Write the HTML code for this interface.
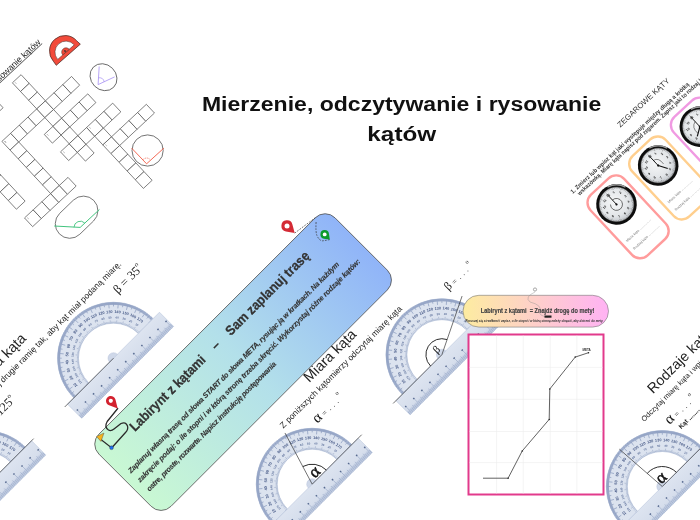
<!DOCTYPE html><html><head><meta charset="utf-8"><style>html,body{margin:0;padding:0;background:#fff}#root{position:relative;width:700px;height:520px;overflow:hidden;background:#fff}svg{position:absolute;left:0;top:0;will-change:transform}</style></head><body><div id="root"><svg width="700" height="520" viewBox="0 0 700 520"><defs><linearGradient id="rulg" x1="0" y1="0" x2="0" y2="1"><stop offset="0" stop-color="#dde4f0"/><stop offset="0.7" stop-color="#d6deec"/><stop offset="1" stop-color="#c3cee2"/></linearGradient><g id="prot"><path d="M-56,0 A56,56 0 0 1 56,0 L35,0 A35,35 0 0 0 -35,0 Z" fill="#dce3ef" stroke="#b3c0d8" stroke-width="0.6"/><path d="M-56,0 A56,56 0 0 1 56,0 L53.5,0 A53.5,53.5 0 0 0 -53.5,0 Z" fill="#bfcae0"/><path d="M-56.00,-0.00L-50.00,-0.00M-55.99,-0.98L-53.39,-0.93M-55.97,-1.95L-53.37,-1.86M-55.92,-2.93L-53.33,-2.79M-55.86,-3.91L-53.27,-3.72M-55.79,-4.88L-51.60,-4.51M-55.69,-5.85L-53.11,-5.58M-55.58,-6.82L-53.00,-6.51M-55.46,-7.79L-52.88,-7.43M-55.31,-8.76L-52.74,-8.35M-55.15,-9.72L-49.24,-8.68M-54.97,-10.69L-52.42,-10.19M-54.78,-11.64L-52.23,-11.10M-54.56,-12.60L-52.03,-12.01M-54.34,-13.55L-51.81,-12.92M-54.09,-14.49L-50.03,-13.41M-53.83,-15.44L-51.33,-14.72M-53.55,-16.37L-51.07,-15.61M-53.26,-17.30L-50.79,-16.50M-52.95,-18.23L-50.49,-17.39M-52.62,-19.15L-46.98,-17.10M-52.28,-20.07L-49.85,-19.14M-51.92,-20.98L-49.51,-20.00M-51.55,-21.88L-49.15,-20.87M-51.16,-22.78L-48.78,-21.72M-50.75,-23.67L-46.95,-21.89M-50.33,-24.55L-48.00,-23.41M-49.90,-25.42L-47.58,-24.24M-49.45,-26.29L-47.15,-25.07M-48.98,-27.15L-46.70,-25.89M-48.50,-28.00L-43.30,-25.00M-48.00,-28.84L-45.77,-27.50M-47.49,-29.68L-45.29,-28.30M-46.97,-30.50L-44.79,-29.08M-46.43,-31.31L-44.27,-29.86M-45.87,-32.12L-42.43,-29.71M-45.30,-32.92L-43.20,-31.39M-44.72,-33.70L-42.65,-32.14M-44.13,-34.48L-42.08,-32.88M-43.52,-35.24L-41.50,-33.61M-42.90,-36.00L-38.30,-32.14M-42.26,-36.74L-40.30,-35.03M-41.62,-37.47L-39.68,-35.73M-40.96,-38.19L-39.05,-36.42M-40.28,-38.90L-38.41,-37.09M-39.60,-39.60L-36.63,-36.63M-38.90,-40.28L-37.09,-38.41M-38.19,-40.96L-36.42,-39.05M-37.47,-41.62L-35.73,-39.68M-36.74,-42.26L-35.03,-40.30M-36.00,-42.90L-32.14,-38.30M-35.24,-43.52L-33.61,-41.50M-34.48,-44.13L-32.88,-42.08M-33.70,-44.72L-32.14,-42.65M-32.92,-45.30L-31.39,-43.20M-32.12,-45.87L-29.71,-42.43M-31.31,-46.43L-29.86,-44.27M-30.50,-46.97L-29.08,-44.79M-29.68,-47.49L-28.30,-45.29M-28.84,-48.00L-27.50,-45.77M-28.00,-48.50L-25.00,-43.30M-27.15,-48.98L-25.89,-46.70M-26.29,-49.45L-25.07,-47.15M-25.42,-49.90L-24.24,-47.58M-24.55,-50.33L-23.41,-48.00M-23.67,-50.75L-21.89,-46.95M-22.78,-51.16L-21.72,-48.78M-21.88,-51.55L-20.87,-49.15M-20.98,-51.92L-20.00,-49.51M-20.07,-52.28L-19.14,-49.85M-19.15,-52.62L-17.10,-46.98M-18.23,-52.95L-17.39,-50.49M-17.30,-53.26L-16.50,-50.79M-16.37,-53.55L-15.61,-51.07M-15.44,-53.83L-14.72,-51.33M-14.49,-54.09L-13.41,-50.03M-13.55,-54.34L-12.92,-51.81M-12.60,-54.56L-12.01,-52.03M-11.64,-54.78L-11.10,-52.23M-10.69,-54.97L-10.19,-52.42M-9.72,-55.15L-8.68,-49.24M-8.76,-55.31L-8.35,-52.74M-7.79,-55.46L-7.43,-52.88M-6.82,-55.58L-6.51,-53.00M-5.85,-55.69L-5.58,-53.11M-4.88,-55.79L-4.51,-51.60M-3.91,-55.86L-3.72,-53.27M-2.93,-55.92L-2.79,-53.33M-1.95,-55.97L-1.86,-53.37M-0.98,-55.99L-0.93,-53.39M0.00,-56.00L0.00,-50.00M0.98,-55.99L0.93,-53.39M1.95,-55.97L1.86,-53.37M2.93,-55.92L2.79,-53.33M3.91,-55.86L3.72,-53.27M4.88,-55.79L4.51,-51.60M5.85,-55.69L5.58,-53.11M6.82,-55.58L6.51,-53.00M7.79,-55.46L7.43,-52.88M8.76,-55.31L8.35,-52.74M9.72,-55.15L8.68,-49.24M10.69,-54.97L10.19,-52.42M11.64,-54.78L11.10,-52.23M12.60,-54.56L12.01,-52.03M13.55,-54.34L12.92,-51.81M14.49,-54.09L13.41,-50.03M15.44,-53.83L14.72,-51.33M16.37,-53.55L15.61,-51.07M17.30,-53.26L16.50,-50.79M18.23,-52.95L17.39,-50.49M19.15,-52.62L17.10,-46.98M20.07,-52.28L19.14,-49.85M20.98,-51.92L20.00,-49.51M21.88,-51.55L20.87,-49.15M22.78,-51.16L21.72,-48.78M23.67,-50.75L21.89,-46.95M24.55,-50.33L23.41,-48.00M25.42,-49.90L24.24,-47.58M26.29,-49.45L25.07,-47.15M27.15,-48.98L25.89,-46.70M28.00,-48.50L25.00,-43.30M28.84,-48.00L27.50,-45.77M29.68,-47.49L28.30,-45.29M30.50,-46.97L29.08,-44.79M31.31,-46.43L29.86,-44.27M32.12,-45.87L29.71,-42.43M32.92,-45.30L31.39,-43.20M33.70,-44.72L32.14,-42.65M34.48,-44.13L32.88,-42.08M35.24,-43.52L33.61,-41.50M36.00,-42.90L32.14,-38.30M36.74,-42.26L35.03,-40.30M37.47,-41.62L35.73,-39.68M38.19,-40.96L36.42,-39.05M38.90,-40.28L37.09,-38.41M39.60,-39.60L36.63,-36.63M40.28,-38.90L38.41,-37.09M40.96,-38.19L39.05,-36.42M41.62,-37.47L39.68,-35.73M42.26,-36.74L40.30,-35.03M42.90,-36.00L38.30,-32.14M43.52,-35.24L41.50,-33.61M44.13,-34.48L42.08,-32.88M44.72,-33.70L42.65,-32.14M45.30,-32.92L43.20,-31.39M45.87,-32.12L42.43,-29.71M46.43,-31.31L44.27,-29.86M46.97,-30.50L44.79,-29.08M47.49,-29.68L45.29,-28.30M48.00,-28.84L45.77,-27.50M48.50,-28.00L43.30,-25.00M48.98,-27.15L46.70,-25.89M49.45,-26.29L47.15,-25.07M49.90,-25.42L47.58,-24.24M50.33,-24.55L48.00,-23.41M50.75,-23.67L46.95,-21.89M51.16,-22.78L48.78,-21.72M51.55,-21.88L49.15,-20.87M51.92,-20.98L49.51,-20.00M52.28,-20.07L49.85,-19.14M52.62,-19.15L46.98,-17.10M52.95,-18.23L50.49,-17.39M53.26,-17.30L50.79,-16.50M53.55,-16.37L51.07,-15.61M53.83,-15.44L51.33,-14.72M54.09,-14.49L50.03,-13.41M54.34,-13.55L51.81,-12.92M54.56,-12.60L52.03,-12.01M54.78,-11.64L52.23,-11.10M54.97,-10.69L52.42,-10.19M55.15,-9.72L49.24,-8.68M55.31,-8.76L52.74,-8.35M55.46,-7.79L52.88,-7.43M55.58,-6.82L53.00,-6.51M55.69,-5.85L53.11,-5.58M55.79,-4.88L51.60,-4.51M55.86,-3.91L53.27,-3.72M55.92,-2.93L53.33,-2.79M55.97,-1.95L53.37,-1.86M55.99,-0.98L53.39,-0.93M56.00,-0.00L50.00,-0.00" stroke="#6a7fab" stroke-width="0.5"/><path d="M-35.00,-0.00L-38.00,-0.00M-34.98,-1.22L-36.58,-1.28M-34.91,-2.44L-36.51,-2.55M-34.81,-3.66L-36.40,-3.83M-34.66,-4.87L-36.24,-5.09M-34.47,-6.08L-37.42,-6.60M-34.24,-7.28L-35.80,-7.61M-33.96,-8.47L-35.51,-8.85M-33.64,-9.65L-35.18,-10.09M-33.29,-10.82L-34.81,-11.31M-32.89,-11.97L-35.71,-13.00M-32.45,-13.11L-33.93,-13.71M-31.97,-14.24L-33.44,-14.89M-31.46,-15.34L-32.90,-16.04M-30.90,-16.43L-32.32,-17.18M-30.31,-17.50L-32.91,-19.00M-29.68,-18.55L-31.04,-19.40M-29.02,-19.57L-30.34,-20.47M-28.32,-20.57L-29.61,-21.51M-27.58,-21.55L-28.84,-22.53M-26.81,-22.50L-29.11,-24.43M-26.01,-23.42L-27.20,-24.49M-25.18,-24.31L-26.33,-25.42M-24.31,-25.18L-25.42,-26.33M-23.42,-26.01L-24.49,-27.20M-22.50,-26.81L-24.43,-29.11M-21.55,-27.58L-22.53,-28.84M-20.57,-28.32L-21.51,-29.61M-19.57,-29.02L-20.47,-30.34M-18.55,-29.68L-19.40,-31.04M-17.50,-30.31L-19.00,-32.91M-16.43,-30.90L-17.18,-32.32M-15.34,-31.46L-16.04,-32.90M-14.24,-31.97L-14.89,-33.44M-13.11,-32.45L-13.71,-33.93M-11.97,-32.89L-13.00,-35.71M-10.82,-33.29L-11.31,-34.81M-9.65,-33.64L-10.09,-35.18M-8.47,-33.96L-8.85,-35.51M-7.28,-34.24L-7.61,-35.80M-6.08,-34.47L-6.60,-37.42M-4.87,-34.66L-5.09,-36.24M-3.66,-34.81L-3.83,-36.40M-2.44,-34.91L-2.55,-36.51M-1.22,-34.98L-1.28,-36.58M0.00,-35.00L0.00,-38.00M1.22,-34.98L1.28,-36.58M2.44,-34.91L2.55,-36.51M3.66,-34.81L3.83,-36.40M4.87,-34.66L5.09,-36.24M6.08,-34.47L6.60,-37.42M7.28,-34.24L7.61,-35.80M8.47,-33.96L8.85,-35.51M9.65,-33.64L10.09,-35.18M10.82,-33.29L11.31,-34.81M11.97,-32.89L13.00,-35.71M13.11,-32.45L13.71,-33.93M14.24,-31.97L14.89,-33.44M15.34,-31.46L16.04,-32.90M16.43,-30.90L17.18,-32.32M17.50,-30.31L19.00,-32.91M18.55,-29.68L19.40,-31.04M19.57,-29.02L20.47,-30.34M20.57,-28.32L21.51,-29.61M21.55,-27.58L22.53,-28.84M22.50,-26.81L24.43,-29.11M23.42,-26.01L24.49,-27.20M24.31,-25.18L25.42,-26.33M25.18,-24.31L26.33,-25.42M26.01,-23.42L27.20,-24.49M26.81,-22.50L29.11,-24.43M27.58,-21.55L28.84,-22.53M28.32,-20.57L29.61,-21.51M29.02,-19.57L30.34,-20.47M29.68,-18.55L31.04,-19.40M30.31,-17.50L32.91,-19.00M30.90,-16.43L32.32,-17.18M31.46,-15.34L32.90,-16.04M31.97,-14.24L33.44,-14.89M32.45,-13.11L33.93,-13.71M32.89,-11.97L35.71,-13.00M33.29,-10.82L34.81,-11.31M33.64,-9.65L35.18,-10.09M33.96,-8.47L35.51,-8.85M34.24,-7.28L35.80,-7.61M34.47,-6.08L37.42,-6.60M34.66,-4.87L36.24,-5.09M34.81,-3.66L36.40,-3.83M34.91,-2.44L36.51,-2.55M34.98,-1.22L36.58,-1.28M35.00,-0.00L38.00,-0.00" stroke="#7c8fb6" stroke-width="0.4"/><text x="-45.60" y="-8.04" transform="rotate(-80.0 -45.60 -8.04)" font-size="3.9" fill="#485b88" text-anchor="middle" dominant-baseline="middle" font-family="Liberation Sans" font-weight="bold">10</text><text x="-39.98" y="-7.05" transform="rotate(-80.0 -39.98 -7.05)" font-size="2.9" fill="#5f729c" text-anchor="middle" dominant-baseline="middle" font-family="Liberation Sans" font-weight="bold">170</text><text x="-43.51" y="-15.84" transform="rotate(-70.0 -43.51 -15.84)" font-size="3.9" fill="#485b88" text-anchor="middle" dominant-baseline="middle" font-family="Liberation Sans" font-weight="bold">20</text><text x="-38.15" y="-13.89" transform="rotate(-70.0 -38.15 -13.89)" font-size="2.9" fill="#5f729c" text-anchor="middle" dominant-baseline="middle" font-family="Liberation Sans" font-weight="bold">160</text><text x="-40.10" y="-23.15" transform="rotate(-60.0 -40.10 -23.15)" font-size="3.9" fill="#485b88" text-anchor="middle" dominant-baseline="middle" font-family="Liberation Sans" font-weight="bold">30</text><text x="-35.16" y="-20.30" transform="rotate(-60.0 -35.16 -20.30)" font-size="2.9" fill="#5f729c" text-anchor="middle" dominant-baseline="middle" font-family="Liberation Sans" font-weight="bold">150</text><text x="-35.47" y="-29.76" transform="rotate(-50.0 -35.47 -29.76)" font-size="3.9" fill="#485b88" text-anchor="middle" dominant-baseline="middle" font-family="Liberation Sans" font-weight="bold">40</text><text x="-31.10" y="-26.10" transform="rotate(-50.0 -31.10 -26.10)" font-size="2.9" fill="#5f729c" text-anchor="middle" dominant-baseline="middle" font-family="Liberation Sans" font-weight="bold">140</text><text x="-29.76" y="-35.47" transform="rotate(-40.0 -29.76 -35.47)" font-size="3.9" fill="#485b88" text-anchor="middle" dominant-baseline="middle" font-family="Liberation Sans" font-weight="bold">50</text><text x="-26.10" y="-31.10" transform="rotate(-40.0 -26.10 -31.10)" font-size="2.9" fill="#5f729c" text-anchor="middle" dominant-baseline="middle" font-family="Liberation Sans" font-weight="bold">130</text><text x="-23.15" y="-40.10" transform="rotate(-30.0 -23.15 -40.10)" font-size="3.9" fill="#485b88" text-anchor="middle" dominant-baseline="middle" font-family="Liberation Sans" font-weight="bold">60</text><text x="-20.30" y="-35.16" transform="rotate(-30.0 -20.30 -35.16)" font-size="2.9" fill="#5f729c" text-anchor="middle" dominant-baseline="middle" font-family="Liberation Sans" font-weight="bold">120</text><text x="-15.84" y="-43.51" transform="rotate(-20.0 -15.84 -43.51)" font-size="3.9" fill="#485b88" text-anchor="middle" dominant-baseline="middle" font-family="Liberation Sans" font-weight="bold">70</text><text x="-13.89" y="-38.15" transform="rotate(-20.0 -13.89 -38.15)" font-size="2.9" fill="#5f729c" text-anchor="middle" dominant-baseline="middle" font-family="Liberation Sans" font-weight="bold">110</text><text x="-8.04" y="-45.60" transform="rotate(-10.0 -8.04 -45.60)" font-size="3.9" fill="#485b88" text-anchor="middle" dominant-baseline="middle" font-family="Liberation Sans" font-weight="bold">80</text><text x="-7.05" y="-39.98" transform="rotate(-10.0 -7.05 -39.98)" font-size="2.9" fill="#5f729c" text-anchor="middle" dominant-baseline="middle" font-family="Liberation Sans" font-weight="bold">100</text><text x="0.00" y="-46.30" transform="rotate(0.0 0.00 -46.30)" font-size="3.9" fill="#485b88" text-anchor="middle" dominant-baseline="middle" font-family="Liberation Sans" font-weight="bold">90</text><text x="0.00" y="-40.60" transform="rotate(0.0 0.00 -40.60)" font-size="2.9" fill="#5f729c" text-anchor="middle" dominant-baseline="middle" font-family="Liberation Sans" font-weight="bold">90</text><text x="8.04" y="-45.60" transform="rotate(10.0 8.04 -45.60)" font-size="3.9" fill="#485b88" text-anchor="middle" dominant-baseline="middle" font-family="Liberation Sans" font-weight="bold">100</text><text x="7.05" y="-39.98" transform="rotate(10.0 7.05 -39.98)" font-size="2.9" fill="#5f729c" text-anchor="middle" dominant-baseline="middle" font-family="Liberation Sans" font-weight="bold">80</text><text x="15.84" y="-43.51" transform="rotate(20.0 15.84 -43.51)" font-size="3.9" fill="#485b88" text-anchor="middle" dominant-baseline="middle" font-family="Liberation Sans" font-weight="bold">110</text><text x="13.89" y="-38.15" transform="rotate(20.0 13.89 -38.15)" font-size="2.9" fill="#5f729c" text-anchor="middle" dominant-baseline="middle" font-family="Liberation Sans" font-weight="bold">70</text><text x="23.15" y="-40.10" transform="rotate(30.0 23.15 -40.10)" font-size="3.9" fill="#485b88" text-anchor="middle" dominant-baseline="middle" font-family="Liberation Sans" font-weight="bold">120</text><text x="20.30" y="-35.16" transform="rotate(30.0 20.30 -35.16)" font-size="2.9" fill="#5f729c" text-anchor="middle" dominant-baseline="middle" font-family="Liberation Sans" font-weight="bold">60</text><text x="29.76" y="-35.47" transform="rotate(40.0 29.76 -35.47)" font-size="3.9" fill="#485b88" text-anchor="middle" dominant-baseline="middle" font-family="Liberation Sans" font-weight="bold">130</text><text x="26.10" y="-31.10" transform="rotate(40.0 26.10 -31.10)" font-size="2.9" fill="#5f729c" text-anchor="middle" dominant-baseline="middle" font-family="Liberation Sans" font-weight="bold">50</text><text x="35.47" y="-29.76" transform="rotate(50.0 35.47 -29.76)" font-size="3.9" fill="#485b88" text-anchor="middle" dominant-baseline="middle" font-family="Liberation Sans" font-weight="bold">140</text><text x="31.10" y="-26.10" transform="rotate(50.0 31.10 -26.10)" font-size="2.9" fill="#5f729c" text-anchor="middle" dominant-baseline="middle" font-family="Liberation Sans" font-weight="bold">40</text><text x="40.10" y="-23.15" transform="rotate(60.0 40.10 -23.15)" font-size="3.9" fill="#485b88" text-anchor="middle" dominant-baseline="middle" font-family="Liberation Sans" font-weight="bold">150</text><text x="35.16" y="-20.30" transform="rotate(60.0 35.16 -20.30)" font-size="2.9" fill="#5f729c" text-anchor="middle" dominant-baseline="middle" font-family="Liberation Sans" font-weight="bold">30</text><text x="43.51" y="-15.84" transform="rotate(70.0 43.51 -15.84)" font-size="3.9" fill="#485b88" text-anchor="middle" dominant-baseline="middle" font-family="Liberation Sans" font-weight="bold">160</text><text x="38.15" y="-13.89" transform="rotate(70.0 38.15 -13.89)" font-size="2.9" fill="#5f729c" text-anchor="middle" dominant-baseline="middle" font-family="Liberation Sans" font-weight="bold">20</text><text x="45.60" y="-8.04" transform="rotate(80.0 45.60 -8.04)" font-size="3.9" fill="#485b88" text-anchor="middle" dominant-baseline="middle" font-family="Liberation Sans" font-weight="bold">170</text><text x="39.98" y="-7.05" transform="rotate(80.0 39.98 -7.05)" font-size="2.9" fill="#5f729c" text-anchor="middle" dominant-baseline="middle" font-family="Liberation Sans" font-weight="bold">10</text><rect x="-65" y="0" width="130" height="20" fill="url(#rulg)" stroke="#b3c0d8" stroke-width="0.5"/><rect x="-64.7" y="15.8" width="129.4" height="4" fill="#c9d3e6"/><path d="M-64.48,20L-64.48,16.2M-63.34,20L-63.34,16.2M-62.20,20L-62.20,11.5M-61.06,20L-61.06,16.2M-59.92,20L-59.92,16.2M-58.78,20L-58.78,16.2M-57.64,20L-57.64,16.2M-56.50,20L-56.50,14.5M-55.36,20L-55.36,16.2M-54.22,20L-54.22,16.2M-53.08,20L-53.08,16.2M-51.94,20L-51.94,16.2M-50.80,20L-50.80,11.5M-49.66,20L-49.66,16.2M-48.52,20L-48.52,16.2M-47.38,20L-47.38,16.2M-46.24,20L-46.24,16.2M-45.10,20L-45.10,14.5M-43.96,20L-43.96,16.2M-42.82,20L-42.82,16.2M-41.68,20L-41.68,16.2M-40.54,20L-40.54,16.2M-39.40,20L-39.40,11.5M-38.26,20L-38.26,16.2M-37.12,20L-37.12,16.2M-35.98,20L-35.98,16.2M-34.84,20L-34.84,16.2M-33.70,20L-33.70,14.5M-32.56,20L-32.56,16.2M-31.42,20L-31.42,16.2M-30.28,20L-30.28,16.2M-29.14,20L-29.14,16.2M-28.00,20L-28.00,11.5M-26.86,20L-26.86,16.2M-25.72,20L-25.72,16.2M-24.58,20L-24.58,16.2M-23.44,20L-23.44,16.2M-22.30,20L-22.30,14.5M-21.16,20L-21.16,16.2M-20.02,20L-20.02,16.2M-18.88,20L-18.88,16.2M-17.74,20L-17.74,16.2M-16.60,20L-16.60,11.5M-15.46,20L-15.46,16.2M-14.32,20L-14.32,16.2M-13.18,20L-13.18,16.2M-12.04,20L-12.04,16.2M-10.90,20L-10.90,14.5M-9.76,20L-9.76,16.2M-8.62,20L-8.62,16.2M-7.48,20L-7.48,16.2M-6.34,20L-6.34,16.2M-5.20,20L-5.20,11.5M-4.06,20L-4.06,16.2M-2.92,20L-2.92,16.2M-1.78,20L-1.78,16.2M-0.64,20L-0.64,16.2M0.50,20L0.50,14.5M1.64,20L1.64,16.2M2.78,20L2.78,16.2M3.92,20L3.92,16.2M5.06,20L5.06,16.2M6.20,20L6.20,11.5M7.34,20L7.34,16.2M8.48,20L8.48,16.2M9.62,20L9.62,16.2M10.76,20L10.76,16.2M11.90,20L11.90,14.5M13.04,20L13.04,16.2M14.18,20L14.18,16.2M15.32,20L15.32,16.2M16.46,20L16.46,16.2M17.60,20L17.60,11.5M18.74,20L18.74,16.2M19.88,20L19.88,16.2M21.02,20L21.02,16.2M22.16,20L22.16,16.2M23.30,20L23.30,14.5M24.44,20L24.44,16.2M25.58,20L25.58,16.2M26.72,20L26.72,16.2M27.86,20L27.86,16.2M29.00,20L29.00,11.5M30.14,20L30.14,16.2M31.28,20L31.28,16.2M32.42,20L32.42,16.2M33.56,20L33.56,16.2M34.70,20L34.70,14.5M35.84,20L35.84,16.2M36.98,20L36.98,16.2M38.12,20L38.12,16.2M39.26,20L39.26,16.2M40.40,20L40.40,11.5M41.54,20L41.54,16.2M42.68,20L42.68,16.2M43.82,20L43.82,16.2M44.96,20L44.96,16.2M46.10,20L46.10,14.5M47.24,20L47.24,16.2M48.38,20L48.38,16.2M49.52,20L49.52,16.2M50.66,20L50.66,16.2M51.80,20L51.80,11.5M52.94,20L52.94,16.2M54.08,20L54.08,16.2M55.22,20L55.22,16.2M56.36,20L56.36,16.2M57.50,20L57.50,14.5M58.64,20L58.64,16.2M59.78,20L59.78,16.2M60.92,20L60.92,16.2M62.06,20L62.06,16.2M63.20,20L63.20,11.5M64.34,20L64.34,16.2" stroke="#7d90b7" stroke-width="0.42"/><rect x="-63.00" y="10.4" width="1.6" height="1.4" fill="#56698f"/><rect x="-51.60" y="10.4" width="1.6" height="1.4" fill="#56698f"/><rect x="-40.20" y="10.4" width="1.6" height="1.4" fill="#56698f"/><rect x="-28.80" y="10.4" width="1.6" height="1.4" fill="#56698f"/><rect x="-17.40" y="10.4" width="1.6" height="1.4" fill="#56698f"/><rect x="-6.00" y="10.4" width="1.6" height="1.4" fill="#56698f"/><rect x="5.40" y="10.4" width="1.6" height="1.4" fill="#56698f"/><rect x="16.80" y="10.4" width="1.6" height="1.4" fill="#56698f"/><rect x="28.20" y="10.4" width="1.6" height="1.4" fill="#56698f"/><rect x="39.60" y="10.4" width="1.6" height="1.4" fill="#56698f"/><rect x="51.00" y="10.4" width="1.6" height="1.4" fill="#56698f"/><rect x="62.40" y="10.4" width="1.6" height="1.4" fill="#56698f"/><path d="M-5.5,0 A5.5,5.5 0 0 1 5.5,0 Z" fill="#cfd8e9" stroke="#b0bdd6" stroke-width="0.4"/></g><linearGradient id="cardg" x1="0" y1="0" x2="1" y2="0"><stop offset="0" stop-color="#c9f8d3"/><stop offset="0.5" stop-color="#b3e0ea"/><stop offset="1" stop-color="#90b4f8"/></linearGradient><linearGradient id="pillg" x1="0" y1="0" x2="1" y2="0"><stop offset="0" stop-color="#fdeca0"/><stop offset="1" stop-color="#ffb2f4"/></linearGradient><radialGradient id="face" cx="0.5" cy="0.4" r="0.6"><stop offset="0" stop-color="#f6f7f8"/><stop offset="0.7" stop-color="#e2e5e8"/><stop offset="1" stop-color="#c2c6cb"/></radialGradient></defs><g transform="translate(12.39,82.81) rotate(-43)"><rect x="-83.30" y="47.60" width="11.9" height="11.9" fill="#fff" stroke="#4a4a4a" stroke-width="0.65"/><rect x="-83.30" y="59.50" width="11.9" height="11.9" fill="#fff" stroke="#4a4a4a" stroke-width="0.65"/><rect x="-83.30" y="71.40" width="11.9" height="11.9" fill="#fff" stroke="#4a4a4a" stroke-width="0.65"/><rect x="-83.30" y="83.30" width="11.9" height="11.9" fill="#fff" stroke="#4a4a4a" stroke-width="0.65"/><rect x="-83.30" y="107.10" width="11.9" height="11.9" fill="#fff" stroke="#4a4a4a" stroke-width="0.65"/><rect x="-71.40" y="0.00" width="11.9" height="11.9" fill="#fff" stroke="#4a4a4a" stroke-width="0.65"/><rect x="-71.40" y="107.10" width="11.9" height="11.9" fill="#fff" stroke="#4a4a4a" stroke-width="0.65"/><rect x="-59.50" y="0.00" width="11.9" height="11.9" fill="#fff" stroke="#4a4a4a" stroke-width="0.65"/><rect x="-59.50" y="107.10" width="11.9" height="11.9" fill="#fff" stroke="#4a4a4a" stroke-width="0.65"/><rect x="-47.60" y="0.00" width="11.9" height="11.9" fill="#fff" stroke="#4a4a4a" stroke-width="0.65"/><rect x="-47.60" y="35.70" width="11.9" height="11.9" fill="#fff" stroke="#4a4a4a" stroke-width="0.65"/><rect x="-47.60" y="47.60" width="11.9" height="11.9" fill="#fff" stroke="#4a4a4a" stroke-width="0.65"/><rect x="-47.60" y="59.50" width="11.9" height="11.9" fill="#fff" stroke="#4a4a4a" stroke-width="0.65"/><rect x="-47.60" y="71.40" width="11.9" height="11.9" fill="#fff" stroke="#4a4a4a" stroke-width="0.65"/><rect x="-47.60" y="83.30" width="11.9" height="11.9" fill="#fff" stroke="#4a4a4a" stroke-width="0.65"/><rect x="-47.60" y="95.20" width="11.9" height="11.9" fill="#fff" stroke="#4a4a4a" stroke-width="0.65"/><rect x="-47.60" y="107.10" width="11.9" height="11.9" fill="#fff" stroke="#4a4a4a" stroke-width="0.65"/><rect x="-35.70" y="0.00" width="11.9" height="11.9" fill="#fff" stroke="#4a4a4a" stroke-width="0.65"/><rect x="-35.70" y="35.70" width="11.9" height="11.9" fill="#fff" stroke="#4a4a4a" stroke-width="0.65"/><rect x="-35.70" y="107.10" width="11.9" height="11.9" fill="#fff" stroke="#4a4a4a" stroke-width="0.65"/><rect x="-23.80" y="35.70" width="11.9" height="11.9" fill="#fff" stroke="#4a4a4a" stroke-width="0.65"/><rect x="-11.90" y="35.70" width="11.9" height="11.9" fill="#fff" stroke="#4a4a4a" stroke-width="0.65"/><rect x="-11.90" y="59.50" width="11.9" height="11.9" fill="#fff" stroke="#4a4a4a" stroke-width="0.65"/><rect x="-11.90" y="83.30" width="11.9" height="11.9" fill="#fff" stroke="#4a4a4a" stroke-width="0.65"/><rect x="0.00" y="0.00" width="11.9" height="11.9" fill="#fff" stroke="#4a4a4a" stroke-width="0.65"/><rect x="0.00" y="11.90" width="11.9" height="11.9" fill="#fff" stroke="#4a4a4a" stroke-width="0.65"/><rect x="0.00" y="23.80" width="11.9" height="11.9" fill="#fff" stroke="#4a4a4a" stroke-width="0.65"/><rect x="0.00" y="35.70" width="11.9" height="11.9" fill="#fff" stroke="#4a4a4a" stroke-width="0.65"/><rect x="0.00" y="47.60" width="11.9" height="11.9" fill="#fff" stroke="#4a4a4a" stroke-width="0.65"/><rect x="0.00" y="59.50" width="11.9" height="11.9" fill="#fff" stroke="#4a4a4a" stroke-width="0.65"/><rect x="0.00" y="71.40" width="11.9" height="11.9" fill="#fff" stroke="#4a4a4a" stroke-width="0.65"/><rect x="0.00" y="83.30" width="11.9" height="11.9" fill="#fff" stroke="#4a4a4a" stroke-width="0.65"/><rect x="0.00" y="95.20" width="11.9" height="11.9" fill="#fff" stroke="#4a4a4a" stroke-width="0.65"/><rect x="11.90" y="35.70" width="11.9" height="11.9" fill="#fff" stroke="#4a4a4a" stroke-width="0.65"/><rect x="11.90" y="59.50" width="11.9" height="11.9" fill="#fff" stroke="#4a4a4a" stroke-width="0.65"/><rect x="11.90" y="83.30" width="11.9" height="11.9" fill="#fff" stroke="#4a4a4a" stroke-width="0.65"/><rect x="23.80" y="35.70" width="11.9" height="11.9" fill="#fff" stroke="#4a4a4a" stroke-width="0.65"/><rect x="23.80" y="59.50" width="11.9" height="11.9" fill="#fff" stroke="#4a4a4a" stroke-width="0.65"/><rect x="23.80" y="83.30" width="11.9" height="11.9" fill="#fff" stroke="#4a4a4a" stroke-width="0.65"/><rect x="23.80" y="95.20" width="11.9" height="11.9" fill="#fff" stroke="#4a4a4a" stroke-width="0.65"/><rect x="23.80" y="107.10" width="11.9" height="11.9" fill="#fff" stroke="#4a4a4a" stroke-width="0.65"/><rect x="23.80" y="119.00" width="11.9" height="11.9" fill="#fff" stroke="#4a4a4a" stroke-width="0.65"/><rect x="23.80" y="130.90" width="11.9" height="11.9" fill="#fff" stroke="#4a4a4a" stroke-width="0.65"/><rect x="23.80" y="142.80" width="11.9" height="11.9" fill="#fff" stroke="#4a4a4a" stroke-width="0.65"/><rect x="23.80" y="154.70" width="11.9" height="11.9" fill="#fff" stroke="#4a4a4a" stroke-width="0.65"/><rect x="35.70" y="35.70" width="11.9" height="11.9" fill="#fff" stroke="#4a4a4a" stroke-width="0.65"/><rect x="35.70" y="59.50" width="11.9" height="11.9" fill="#fff" stroke="#4a4a4a" stroke-width="0.65"/><rect x="35.70" y="83.30" width="11.9" height="11.9" fill="#fff" stroke="#4a4a4a" stroke-width="0.65"/><rect x="35.70" y="107.10" width="11.9" height="11.9" fill="#fff" stroke="#4a4a4a" stroke-width="0.65"/><rect x="47.60" y="83.30" width="11.9" height="11.9" fill="#fff" stroke="#4a4a4a" stroke-width="0.65"/><rect x="47.60" y="107.10" width="11.9" height="11.9" fill="#fff" stroke="#4a4a4a" stroke-width="0.65"/><rect x="59.50" y="107.10" width="11.9" height="11.9" fill="#fff" stroke="#4a4a4a" stroke-width="0.65"/><rect x="71.40" y="107.10" width="11.9" height="11.9" fill="#fff" stroke="#4a4a4a" stroke-width="0.65"/><text x="1.50" y="3.50" font-size="2.8" fill="#444" font-family="Liberation Sans">1</text><text x="-46.10" y="39.20" font-size="2.8" fill="#444" font-family="Liberation Sans">1</text><text x="-46.10" y="39.20" font-size="2.8" fill="#444" font-family="Liberation Sans">1</text><text x="-10.40" y="63.00" font-size="2.8" fill="#444" font-family="Liberation Sans">1</text><text x="-10.40" y="86.80" font-size="2.8" fill="#444" font-family="Liberation Sans">1</text><text x="25.30" y="86.80" font-size="2.8" fill="#444" font-family="Liberation Sans">1</text><text x="25.30" y="110.60" font-size="2.8" fill="#444" font-family="Liberation Sans">1</text><text x="-81.80" y="110.60" font-size="2.8" fill="#444" font-family="Liberation Sans">1</text><text x="-81.80" y="51.10" font-size="2.8" fill="#444" font-family="Liberation Sans">1</text><text x="-69.90" y="3.50" font-size="2.8" fill="#444" font-family="Liberation Sans">1</text></g><g transform="translate(41.8,43) rotate(-43)"><text x="-0.5" y="-0.6" text-anchor="end" font-family="Liberation Sans" font-size="8.7" fill="#222">Mierzenie, odczytywanie i rysowanie kątów</text><rect x="-200" y="0.2" width="200" height="0.7" fill="#444"/></g><g transform="translate(65,51) rotate(-41.3)"><path d="M-15.5,0 A15.5,15.5 0 0 1 15.5,0 L16,5 L-16,5 Z" fill="#f24b3b" stroke="#4a2a25" stroke-width="0.7"/><path d="M-11,1.5 A11,11 0 0 1 11,1.5 Z" fill="#fff" stroke="#4a2a25" stroke-width="0.5"/><path d="M-4.3,1.5 A4.3,4.3 0 0 1 4.3,1.5 Z" fill="#f24b3b" stroke="#4a2a25" stroke-width="0.5"/><circle cx="0" cy="0" r="0.9" fill="#333"/></g><ellipse cx="103.5" cy="77.2" rx="14.3" ry="12.6" transform="rotate(45 103.5 77.2)" fill="#fff" stroke="#444" stroke-width="0.75"/><path d="M99.2,66.5 L98.1,84.6 L114.6,76.9" fill="none" stroke="#a58ef2" stroke-width="0.8"/><path d="M98.5,77.7 Q103.5,77.5 104.2,81.9" fill="none" stroke="#a58ef2" stroke-width="0.7"/><circle cx="147.6" cy="150.5" r="15.6" fill="#fff" stroke="#444" stroke-width="0.75"/><path d="M131.6,148.1 L146.6,163.8 L163.9,148.1" fill="none" stroke="#f25a44" stroke-width="0.9"/><path d="M143.3,159.4 Q147,156.5 150.3,159.7" fill="none" stroke="#e8503a" stroke-width="0.7" stroke-dasharray="1.1,0.8"/><g transform="translate(76.6,217.2) rotate(-44)"><rect x="-24" y="-14.5" width="48" height="29" rx="14.5" fill="#fff" stroke="#555" stroke-width="0.75"/></g><path d="M54.2,226 L80.2,227.4 L99.4,209.5" fill="none" stroke="#42c47e" stroke-width="1"/><path d="M74,227.3 A6.3,6.3 0 0 1 84.8,223.1" fill="none" stroke="#42c47e" stroke-width="0.9"/><g transform="translate(616.5,204.4) rotate(-43)"><text x="55" y="-53.5" font-family="Liberation Sans" font-size="7.8" fill="#333">ZEGAROWE KĄTY</text><text x="-25" y="-37.5" font-family="Liberation Sans" font-size="6" font-weight="bold" textLength="160" lengthAdjust="spacingAndGlyphs" fill="#3a3a3a">1. Zmierz lub wpisz kąt jaki występuje między długą a krótką</text><text x="-21" y="-31.5" font-family="Liberation Sans" font-size="6" font-weight="bold" textLength="178" lengthAdjust="spacingAndGlyphs" fill="#3a3a3a">wskazówką. Miarę kąta napisz pod zegarem. Zapisz jaki to rodzaj kąta.</text><rect x="-23" y="-24.5" width="46" height="83" rx="11" fill="none" stroke="#ff9c9c" stroke-width="2.4"/><text x="-18" y="35" font-family="Liberation Sans" font-size="3.6" fill="#777">Miara kąta ...............</text><text x="-18" y="45.5" font-family="Liberation Sans" font-size="3.6" fill="#777">Rodzaj kąta ...............</text><rect x="34" y="-24.5" width="46" height="83" rx="11" fill="none" stroke="#ffcf8e" stroke-width="2.4"/><text x="39" y="35" font-family="Liberation Sans" font-size="3.6" fill="#777">Miara kąta ...............</text><text x="39" y="45.5" font-family="Liberation Sans" font-size="3.6" fill="#777">Rodzaj kąta ...............</text><rect x="91" y="-24.5" width="46" height="83" rx="11" fill="none" stroke="#f09ae2" stroke-width="2.4"/><text x="96" y="35" font-family="Liberation Sans" font-size="3.6" fill="#777">Miara kąta ...............</text><text x="96" y="45.5" font-family="Liberation Sans" font-size="3.6" fill="#777">Rodzaj kąta ...............</text><g transform="translate(0.00,0.00)"><circle r="20.3" fill="#0d0d0d"/><g transform="rotate(43)"><path d="M-9,-17.3 A19.5,19.5 0 0 1 9,-17.3" fill="none" stroke="#9a9a9a" stroke-width="1.4"/></g><circle r="17.2" fill="url(#face)" stroke="#777" stroke-width="0.4"/><path d="M0.00,-16.60L0.00,-14.80M1.74,-16.51L1.65,-15.71M3.45,-16.24L3.29,-15.45M5.13,-15.79L4.88,-15.03M6.75,-15.16L6.43,-14.43M8.30,-14.38L7.40,-12.82M9.76,-13.43L9.29,-12.78M11.11,-12.34L10.57,-11.74M12.34,-11.11L11.74,-10.57M13.43,-9.76L12.78,-9.29M14.38,-8.30L12.82,-7.40M15.16,-6.75L14.43,-6.43M15.79,-5.13L15.03,-4.88M16.24,-3.45L15.45,-3.29M16.51,-1.74L15.71,-1.65M16.60,-0.00L14.80,-0.00M16.51,1.74L15.71,1.65M16.24,3.45L15.45,3.29M15.79,5.13L15.03,4.88M15.16,6.75L14.43,6.43M14.38,8.30L12.82,7.40M13.43,9.76L12.78,9.29M12.34,11.11L11.74,10.57M11.11,12.34L10.57,11.74M9.76,13.43L9.29,12.78M8.30,14.38L7.40,12.82M6.75,15.16L6.43,14.43M5.13,15.79L4.88,15.03M3.45,16.24L3.29,15.45M1.74,16.51L1.65,15.71M0.00,16.60L0.00,14.80M-1.74,16.51L-1.65,15.71M-3.45,16.24L-3.29,15.45M-5.13,15.79L-4.88,15.03M-6.75,15.16L-6.43,14.43M-8.30,14.38L-7.40,12.82M-9.76,13.43L-9.29,12.78M-11.11,12.34L-10.57,11.74M-12.34,11.11L-11.74,10.57M-13.43,9.76L-12.78,9.29M-14.38,8.30L-12.82,7.40M-15.16,6.75L-14.43,6.43M-15.79,5.13L-15.03,4.88M-16.24,3.45L-15.45,3.29M-16.51,1.74L-15.71,1.65M-16.60,0.00L-14.80,0.00M-16.51,-1.74L-15.71,-1.65M-16.24,-3.45L-15.45,-3.29M-15.79,-5.13L-15.03,-4.88M-15.16,-6.75L-14.43,-6.43M-14.38,-8.30L-12.82,-7.40M-13.43,-9.76L-12.78,-9.29M-12.34,-11.11L-11.74,-10.57M-11.11,-12.34L-10.57,-11.74M-9.76,-13.43L-9.29,-12.78M-8.30,-14.38L-7.40,-12.82M-6.75,-15.16L-6.43,-14.43M-5.13,-15.79L-4.88,-15.03M-3.45,-16.24L-3.29,-15.45M-1.74,-16.51L-1.65,-15.71" stroke="#444" stroke-width="0.35"/><text x="6.15" y="-9.55" font-size="3.2" text-anchor="middle" fill="#222" font-weight="bold" font-family="Liberation Sans">1</text><text x="10.65" y="-5.05" font-size="3.2" text-anchor="middle" fill="#222" font-weight="bold" font-family="Liberation Sans">2</text><text x="12.30" y="1.10" font-size="3.2" text-anchor="middle" fill="#222" font-weight="bold" font-family="Liberation Sans">3</text><text x="10.65" y="7.25" font-size="3.2" text-anchor="middle" fill="#222" font-weight="bold" font-family="Liberation Sans">4</text><text x="6.15" y="11.75" font-size="3.2" text-anchor="middle" fill="#222" font-weight="bold" font-family="Liberation Sans">5</text><text x="0.00" y="13.40" font-size="3.2" text-anchor="middle" fill="#222" font-weight="bold" font-family="Liberation Sans">6</text><text x="-6.15" y="11.75" font-size="3.2" text-anchor="middle" fill="#222" font-weight="bold" font-family="Liberation Sans">7</text><text x="-10.65" y="7.25" font-size="3.2" text-anchor="middle" fill="#222" font-weight="bold" font-family="Liberation Sans">8</text><text x="-12.30" y="1.10" font-size="3.2" text-anchor="middle" fill="#222" font-weight="bold" font-family="Liberation Sans">9</text><text x="-10.65" y="-5.05" font-size="3.2" text-anchor="middle" fill="#222" font-weight="bold" font-family="Liberation Sans">10</text><text x="-6.15" y="-9.55" font-size="3.2" text-anchor="middle" fill="#222" font-weight="bold" font-family="Liberation Sans">11</text><text x="-0.00" y="-11.20" font-size="3.2" text-anchor="middle" fill="#222" font-weight="bold" font-family="Liberation Sans">12</text><line x1="0" y1="0" x2="0.00" y2="-14.00" stroke="#111" stroke-width="0.9"/><path d="M0,-6 A6,6 0 1 1 -4.5,-4" fill="none" stroke="#222" stroke-width="0.6"/><circle r="1.1" fill="#111"/></g><g transform="translate(57.00,0.00)"><circle r="20.3" fill="#0d0d0d"/><g transform="rotate(43)"><path d="M-9,-17.3 A19.5,19.5 0 0 1 9,-17.3" fill="none" stroke="#9a9a9a" stroke-width="1.4"/></g><circle r="17.2" fill="url(#face)" stroke="#777" stroke-width="0.4"/><path d="M0.00,-16.60L0.00,-14.80M1.74,-16.51L1.65,-15.71M3.45,-16.24L3.29,-15.45M5.13,-15.79L4.88,-15.03M6.75,-15.16L6.43,-14.43M8.30,-14.38L7.40,-12.82M9.76,-13.43L9.29,-12.78M11.11,-12.34L10.57,-11.74M12.34,-11.11L11.74,-10.57M13.43,-9.76L12.78,-9.29M14.38,-8.30L12.82,-7.40M15.16,-6.75L14.43,-6.43M15.79,-5.13L15.03,-4.88M16.24,-3.45L15.45,-3.29M16.51,-1.74L15.71,-1.65M16.60,-0.00L14.80,-0.00M16.51,1.74L15.71,1.65M16.24,3.45L15.45,3.29M15.79,5.13L15.03,4.88M15.16,6.75L14.43,6.43M14.38,8.30L12.82,7.40M13.43,9.76L12.78,9.29M12.34,11.11L11.74,10.57M11.11,12.34L10.57,11.74M9.76,13.43L9.29,12.78M8.30,14.38L7.40,12.82M6.75,15.16L6.43,14.43M5.13,15.79L4.88,15.03M3.45,16.24L3.29,15.45M1.74,16.51L1.65,15.71M0.00,16.60L0.00,14.80M-1.74,16.51L-1.65,15.71M-3.45,16.24L-3.29,15.45M-5.13,15.79L-4.88,15.03M-6.75,15.16L-6.43,14.43M-8.30,14.38L-7.40,12.82M-9.76,13.43L-9.29,12.78M-11.11,12.34L-10.57,11.74M-12.34,11.11L-11.74,10.57M-13.43,9.76L-12.78,9.29M-14.38,8.30L-12.82,7.40M-15.16,6.75L-14.43,6.43M-15.79,5.13L-15.03,4.88M-16.24,3.45L-15.45,3.29M-16.51,1.74L-15.71,1.65M-16.60,0.00L-14.80,0.00M-16.51,-1.74L-15.71,-1.65M-16.24,-3.45L-15.45,-3.29M-15.79,-5.13L-15.03,-4.88M-15.16,-6.75L-14.43,-6.43M-14.38,-8.30L-12.82,-7.40M-13.43,-9.76L-12.78,-9.29M-12.34,-11.11L-11.74,-10.57M-11.11,-12.34L-10.57,-11.74M-9.76,-13.43L-9.29,-12.78M-8.30,-14.38L-7.40,-12.82M-6.75,-15.16L-6.43,-14.43M-5.13,-15.79L-4.88,-15.03M-3.45,-16.24L-3.29,-15.45M-1.74,-16.51L-1.65,-15.71" stroke="#444" stroke-width="0.35"/><text x="6.15" y="-9.55" font-size="3.2" text-anchor="middle" fill="#222" font-weight="bold" font-family="Liberation Sans">1</text><text x="10.65" y="-5.05" font-size="3.2" text-anchor="middle" fill="#222" font-weight="bold" font-family="Liberation Sans">2</text><text x="12.30" y="1.10" font-size="3.2" text-anchor="middle" fill="#222" font-weight="bold" font-family="Liberation Sans">3</text><text x="10.65" y="7.25" font-size="3.2" text-anchor="middle" fill="#222" font-weight="bold" font-family="Liberation Sans">4</text><text x="6.15" y="11.75" font-size="3.2" text-anchor="middle" fill="#222" font-weight="bold" font-family="Liberation Sans">5</text><text x="0.00" y="13.40" font-size="3.2" text-anchor="middle" fill="#222" font-weight="bold" font-family="Liberation Sans">6</text><text x="-6.15" y="11.75" font-size="3.2" text-anchor="middle" fill="#222" font-weight="bold" font-family="Liberation Sans">7</text><text x="-10.65" y="7.25" font-size="3.2" text-anchor="middle" fill="#222" font-weight="bold" font-family="Liberation Sans">8</text><text x="-12.30" y="1.10" font-size="3.2" text-anchor="middle" fill="#222" font-weight="bold" font-family="Liberation Sans">9</text><text x="-10.65" y="-5.05" font-size="3.2" text-anchor="middle" fill="#222" font-weight="bold" font-family="Liberation Sans">10</text><text x="-6.15" y="-9.55" font-size="3.2" text-anchor="middle" fill="#222" font-weight="bold" font-family="Liberation Sans">11</text><text x="-0.00" y="-11.20" font-size="3.2" text-anchor="middle" fill="#222" font-weight="bold" font-family="Liberation Sans">12</text><line x1="0" y1="0" x2="0.00" y2="-14.00" stroke="#111" stroke-width="0.9"/><line x1="0" y1="0" x2="5.00" y2="8.66" stroke="#111" stroke-width="1.2"/><path d="M0,-7 Q6,-6 5,2.5" fill="none" stroke="#222" stroke-width="0.5"/><circle r="1.1" fill="#111"/></g><g transform="translate(114.00,0.00)"><circle r="20.3" fill="#0d0d0d"/><g transform="rotate(43)"><path d="M-9,-17.3 A19.5,19.5 0 0 1 9,-17.3" fill="none" stroke="#9a9a9a" stroke-width="1.4"/></g><circle r="17.2" fill="url(#face)" stroke="#777" stroke-width="0.4"/><path d="M0.00,-16.60L0.00,-14.80M1.74,-16.51L1.65,-15.71M3.45,-16.24L3.29,-15.45M5.13,-15.79L4.88,-15.03M6.75,-15.16L6.43,-14.43M8.30,-14.38L7.40,-12.82M9.76,-13.43L9.29,-12.78M11.11,-12.34L10.57,-11.74M12.34,-11.11L11.74,-10.57M13.43,-9.76L12.78,-9.29M14.38,-8.30L12.82,-7.40M15.16,-6.75L14.43,-6.43M15.79,-5.13L15.03,-4.88M16.24,-3.45L15.45,-3.29M16.51,-1.74L15.71,-1.65M16.60,-0.00L14.80,-0.00M16.51,1.74L15.71,1.65M16.24,3.45L15.45,3.29M15.79,5.13L15.03,4.88M15.16,6.75L14.43,6.43M14.38,8.30L12.82,7.40M13.43,9.76L12.78,9.29M12.34,11.11L11.74,10.57M11.11,12.34L10.57,11.74M9.76,13.43L9.29,12.78M8.30,14.38L7.40,12.82M6.75,15.16L6.43,14.43M5.13,15.79L4.88,15.03M3.45,16.24L3.29,15.45M1.74,16.51L1.65,15.71M0.00,16.60L0.00,14.80M-1.74,16.51L-1.65,15.71M-3.45,16.24L-3.29,15.45M-5.13,15.79L-4.88,15.03M-6.75,15.16L-6.43,14.43M-8.30,14.38L-7.40,12.82M-9.76,13.43L-9.29,12.78M-11.11,12.34L-10.57,11.74M-12.34,11.11L-11.74,10.57M-13.43,9.76L-12.78,9.29M-14.38,8.30L-12.82,7.40M-15.16,6.75L-14.43,6.43M-15.79,5.13L-15.03,4.88M-16.24,3.45L-15.45,3.29M-16.51,1.74L-15.71,1.65M-16.60,0.00L-14.80,0.00M-16.51,-1.74L-15.71,-1.65M-16.24,-3.45L-15.45,-3.29M-15.79,-5.13L-15.03,-4.88M-15.16,-6.75L-14.43,-6.43M-14.38,-8.30L-12.82,-7.40M-13.43,-9.76L-12.78,-9.29M-12.34,-11.11L-11.74,-10.57M-11.11,-12.34L-10.57,-11.74M-9.76,-13.43L-9.29,-12.78M-8.30,-14.38L-7.40,-12.82M-6.75,-15.16L-6.43,-14.43M-5.13,-15.79L-4.88,-15.03M-3.45,-16.24L-3.29,-15.45M-1.74,-16.51L-1.65,-15.71" stroke="#444" stroke-width="0.35"/><text x="6.15" y="-9.55" font-size="3.2" text-anchor="middle" fill="#222" font-weight="bold" font-family="Liberation Sans">1</text><text x="10.65" y="-5.05" font-size="3.2" text-anchor="middle" fill="#222" font-weight="bold" font-family="Liberation Sans">2</text><text x="12.30" y="1.10" font-size="3.2" text-anchor="middle" fill="#222" font-weight="bold" font-family="Liberation Sans">3</text><text x="10.65" y="7.25" font-size="3.2" text-anchor="middle" fill="#222" font-weight="bold" font-family="Liberation Sans">4</text><text x="6.15" y="11.75" font-size="3.2" text-anchor="middle" fill="#222" font-weight="bold" font-family="Liberation Sans">5</text><text x="0.00" y="13.40" font-size="3.2" text-anchor="middle" fill="#222" font-weight="bold" font-family="Liberation Sans">6</text><text x="-6.15" y="11.75" font-size="3.2" text-anchor="middle" fill="#222" font-weight="bold" font-family="Liberation Sans">7</text><text x="-10.65" y="7.25" font-size="3.2" text-anchor="middle" fill="#222" font-weight="bold" font-family="Liberation Sans">8</text><text x="-12.30" y="1.10" font-size="3.2" text-anchor="middle" fill="#222" font-weight="bold" font-family="Liberation Sans">9</text><text x="-10.65" y="-5.05" font-size="3.2" text-anchor="middle" fill="#222" font-weight="bold" font-family="Liberation Sans">10</text><text x="-6.15" y="-9.55" font-size="3.2" text-anchor="middle" fill="#222" font-weight="bold" font-family="Liberation Sans">11</text><text x="-0.00" y="-11.20" font-size="3.2" text-anchor="middle" fill="#222" font-weight="bold" font-family="Liberation Sans">12</text><line x1="0" y1="0" x2="0.00" y2="-14.00" stroke="#111" stroke-width="0.9"/><line x1="0" y1="0" x2="-8.48" y2="5.30" stroke="#111" stroke-width="1.2"/><path d="M0,-7 Q-7,-5 -6,3.5" fill="none" stroke="#222" stroke-width="0.5"/><circle r="1.1" fill="#111"/></g></g><g transform="translate(243.10,362.10) rotate(-45)"><rect x="-167.0" y="-51.0" width="334" height="102" rx="14" fill="url(#cardg)" stroke="#555" stroke-width="0.8"/><text x="-126" y="-27" font-family="Liberation Sans" font-weight="bold" font-size="13.5" textLength="248" lengthAdjust="spacingAndGlyphs" fill="#333" stroke="#333" stroke-width="0.25">Labirynt z kątami &#160;&#160;&#160;–&#160;&#160;&#160; Sam zaplanuj trasę</text><g font-family="Liberation Sans" font-weight="bold" font-style="italic" font-size="7.4" fill="#333" stroke="#333" stroke-width="0.12" lengthAdjust="spacing"><text x="-158" y="-0.5" textLength="295">Zaplanuj własną trasę od słowa START do słowa META, rysując ją w kratkach. Na każdym</text><text x="-158" y="12.5" textLength="312">zakręcie podaj: o ile stopni i w którą stronę trzeba skręcić. Wykorzystaj różne rodzaje kątów:</text><text x="-158" y="25.5" textLength="180">ostre, proste, rozwarte. Napisz instrukcję postępowania</text></g></g><path d="M117.7,408.5 L107.2,421.5 Q104,427 108.5,430 Q111,431.5 114,429 L121,423.5 Q126,421.5 127.5,426 Q128.5,429.5 125.5,432.5 L112,447.5" fill="none" stroke="#2a2a2a" stroke-width="1.3" stroke-linecap="round" stroke-linejoin="round"/><path d="M99,438 L111.5,447.7" stroke="#2a2a2a" stroke-width="1.1"/><path d="M96.5,436.5 L104,433 L101,441.5 Z" fill="#f5b21d" stroke="#444" stroke-width="0.4"/><circle cx="111.5" cy="447.7" r="1.9" fill="#1e6ff0" stroke="#333" stroke-width="0.4"/><path d="M117.70,408.50 L109.12,405.30 A4.8,4.8 0 1 1 115.45,399.62 Z" fill="#d3222f"/><circle cx="110.8" cy="400.8" r="2.1" fill="#fff"/><path d="M294.7,233.1 L315.3,217.7 M316.1,222 Q315.5,232 317,235.7 Q319.5,241 323,240.8 L329.8,239.6" fill="none" stroke="#333" stroke-width="0.7" stroke-dasharray="1.8,1.2"/><path d="M294.70,233.10 L285.93,231.40 A5.6,5.6 0 1 1 292.41,224.47 Z" fill="#d42a35"/><circle cx="287" cy="225.9" r="2.5" fill="#fff"/><path d="M329.80,239.60 L324.00,238.64 A4.3,4.3 0 1 1 328.96,233.78 Z" fill="#0b9a2c"/><circle cx="324.7" cy="234.4" r="1.9" fill="#fff"/><g transform="translate(-14.40,486.70) rotate(-45)"><use href="#prot"/><line x1="0" y1="0" x2="68.00" y2="-0.00" stroke="#222" stroke-width="0.6"/></g><g transform="translate(113.50,358.20) rotate(-45)"><use href="#prot"/><line x1="0" y1="0" x2="-69.00" y2="-0.00" stroke="#222" stroke-width="0.6"/><text x="-47.8" y="-74.5" text-anchor="end" font-family="Liberation Sans" font-size="14.5" fill="#222">Miara kąta</text><text x="72.2" y="-60.3" text-anchor="end" font-family="Liberation Sans" font-size="8.5" fill="#222">Dorysuj drugie ramię tak, aby kąt miał podaną miarę.</text><text x="48.5" y="-42" font-family="Liberation Serif" font-size="12.5" fill="#222">β = 35<tspan font-size="7" dy="-6">o</tspan></text><text x="-99" y="-39" text-anchor="end" font-family="Liberation Serif" font-size="12.5" fill="#222">β = 125<tspan font-size="7" dy="-6">o</tspan></text></g><g transform="translate(312.20,484.20) rotate(-45)"><use href="#prot"/><line x1="0" y1="0" x2="70.00" y2="-0.00" stroke="#222" stroke-width="0.6"/><line x1="0" y1="0" x2="16.96" y2="-55.47" stroke="#222" stroke-width="0.6"/><path d="M20.00,-0.00 A20,20 0 0 0 5.85,-19.13" fill="none" stroke="#222" stroke-width="0.9"/><text x="5.8" y="-2" font-family="Liberation Serif" font-size="17" fill="#111" stroke="#111" stroke-width="0.5">α</text><text x="69.5" y="-73.5" font-family="Liberation Sans" font-size="14.5" fill="#222">Miara kąta</text><text x="18.8" y="-59.7" font-family="Liberation Sans" font-size="8.5" fill="#222">Z poniższych kątomierzy odczytaj miarę kąta</text><text x="46.5" y="-39.1" font-family="Liberation Serif" font-size="15" fill="#111">α<tspan font-size="8" letter-spacing="0.6"> = . . . </tspan><tspan font-size="6" dy="-6">o</tspan></text></g><g transform="translate(441.90,354.70) rotate(-45)"><use href="#prot"/><line x1="0" y1="0" x2="-69.00" y2="-0.00" stroke="#222" stroke-width="0.6"/><line x1="0" y1="0" x2="55.73" y2="-27.18" stroke="#222" stroke-width="0.6"/><path d="M14.38,-7.01 A16,16 0 0 0 -16.00,-0.00" fill="none" stroke="#222" stroke-width="0.9"/><text x="-3" y="-4" font-family="Liberation Serif" font-size="11" fill="#111">β</text><text x="49.7" y="-40.3" font-family="Liberation Serif" font-size="12" fill="#222">β<tspan font-size="8" letter-spacing="0.6"> = . . . </tspan><tspan font-size="6" dy="-6">o</tspan></text></g><g transform="translate(662.30,486.50) rotate(-45)"><use href="#prot"/><line x1="0" y1="0" x2="70.00" y2="-0.00" stroke="#222" stroke-width="0.6"/><line x1="0" y1="0" x2="-3.98" y2="-56.86" stroke="#222" stroke-width="0.6"/><path d="M20.00,-0.00 A20,20 0 0 0 -1.40,-19.95" fill="none" stroke="#222" stroke-width="0.9"/><text x="0.8" y="-2" font-family="Liberation Serif" font-size="17" fill="#111" stroke="#111" stroke-width="0.5">α</text><text x="58.7" y="-71.9" font-family="Liberation Sans" font-size="14.3" fill="#222">Rodzaje kąta</text><text x="32.8" y="-58.3" font-family="Liberation Sans" font-size="7.4" fill="#222">Odczytaj miarę kąta i wpisz jego rodzaj</text><text x="48.8" y="-38.3" font-family="Liberation Serif" font-size="15" fill="#111">α<tspan font-size="8" letter-spacing="0.6"> = . . . </tspan><tspan font-size="6" dy="-6">o</tspan></text><text x="53.9" y="-27.1" font-family="Liberation Sans" font-weight="bold" font-size="6.5" fill="#222">Kąt ..............</text></g><rect x="468.5" y="334.5" width="135" height="160" fill="#fff" stroke="#e23a8c" stroke-width="2"/><path d="M496.6,335.5V493.5M523.2,335.5V493.5M550.2,335.5V493.5M576.9,335.5V493.5M469.5,367.4H602.5M469.5,399.3H602.5M469.5,431.5H602.5M469.5,462.6H602.5" stroke="#ececec" stroke-width="0.6"/><polyline points="483,478.2 508.1,478.2 522.2,451 549.2,419.4 549.8,389 575.2,357.1 588.5,352.7" fill="none" stroke="#3a3a3a" stroke-width="0.8"/><circle cx="508.1" cy="478.2" r="0.75" fill="#222"/><circle cx="522.2" cy="451" r="0.75" fill="#222"/><circle cx="549.2" cy="419.4" r="0.75" fill="#222"/><circle cx="549.8" cy="389" r="0.75" fill="#222"/><circle cx="575.2" cy="357.1" r="0.75" fill="#222"/><circle cx="588.5" cy="352.7" r="0.75" fill="#222"/><text x="582.5" y="350.5" font-family="Liberation Sans" font-size="3" font-weight="bold" fill="#333">META</text><rect x="463" y="295.3" width="145.5" height="31.8" rx="15.9" fill="url(#pillg)" stroke="#777" stroke-width="0.6"/><path d="M535,292 Q524,297 530,302 Q542,305 540,311 Q538,316 548,317" fill="none" stroke="#888" stroke-width="0.4"/><circle cx="535" cy="289.5" r="1.6" fill="#fff" stroke="#555" stroke-width="0.5"/><rect x="544.5" y="315.5" width="7" height="2.2" fill="#222"/><text x="537.6" y="313" text-anchor="middle" font-family="Liberation Sans" font-weight="bold" font-size="6.3" textLength="113.6" lengthAdjust="spacingAndGlyphs" fill="#444" stroke="#444" stroke-width="0.18">Labirynt z kątami &#160;= Znajdź drogę do mety!</text><text x="534.4" y="322.3" text-anchor="middle" font-family="Liberation Sans" font-style="italic" font-weight="bold" font-size="3.1" textLength="138" lengthAdjust="spacingAndGlyphs" fill="#333">Poruszaj się strzałkami i zapisz, o ile stopni i w którą stronę należy skręcić, aby dotrzeć do mety.</text><text transform="translate(401.6,110.7) scale(1.0975,1)" text-anchor="middle" font-family="Liberation Sans" font-weight="bold" font-size="21" fill="#111">Mierzenie, odczytywanie i rysowanie</text><text transform="translate(401.8,140.7) scale(1.159,1)" text-anchor="middle" font-family="Liberation Sans" font-weight="bold" font-size="21" fill="#111">kątów</text></svg></div></body></html>
